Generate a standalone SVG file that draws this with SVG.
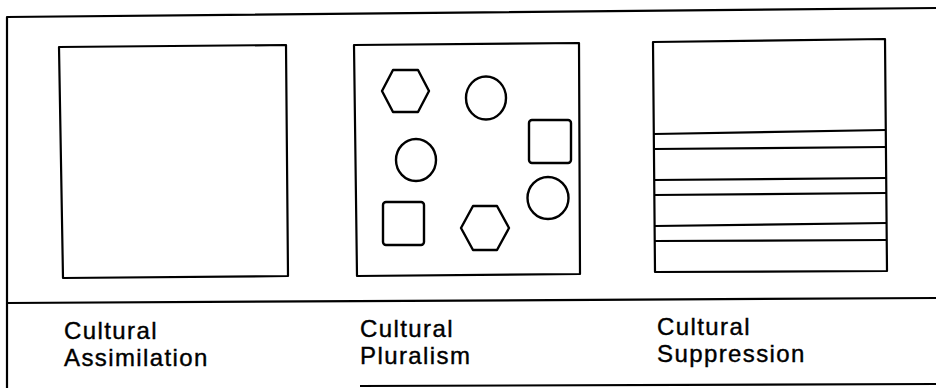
<svg xmlns="http://www.w3.org/2000/svg" width="936" height="388" viewBox="0 0 936 388">
<style>
.ln{fill:none;stroke:#000;stroke-width:2.2;stroke-linejoin:round}
.sh{fill:none;stroke:#000;stroke-width:2.4;stroke-linejoin:round}
.lbl{font-family:"Liberation Sans",Arial,sans-serif;font-size:24px;letter-spacing:1.4px;fill:#000;stroke:#000;stroke-width:0.4px}
</style>
<rect width="936" height="388" fill="#fff"/>
<g id="frame">
<polyline class="ln" points="936,8 7,17 7,388"/>
<line class="ln" x1="7" y1="303" x2="936" y2="298"/>
<line class="ln" x1="360" y1="386" x2="936" y2="384"/>
</g>
<g id="assimilation">
<polygon class="ln" points="59,47 286,45 288,276 63,278"/>
<text class="lbl" x="64" y="339">Cultural</text>
<text class="lbl" x="64" y="366">Assimilation</text>
</g>
<g id="pluralism">
<polygon class="ln" points="354,45 579,43 580,274 357,276"/>
<polygon class="sh" points="393,70 418,70 429,91 418,112 393,112 382,91"/>
<ellipse class="sh" cx="486" cy="98" rx="20" ry="21.5"/>
<rect class="sh" x="529" y="120" width="42" height="43" rx="3"/>
<ellipse class="sh" cx="416" cy="160" rx="20" ry="21"/>
<ellipse class="sh" cx="548" cy="198" rx="20.5" ry="21"/>
<rect class="sh" x="383" y="202" width="41" height="43" rx="3"/>
<polygon class="sh" points="473,206 497,206 509,228 497,250 473,250 461,228"/>
<text class="lbl" x="360" y="337">Cultural</text>
<text class="lbl" x="360" y="364">Pluralism</text>
</g>
<g id="suppression">
<polygon class="ln" points="653,42 885,39 887,271 655,272"/>
<line class="ln" x1="654" y1="134" x2="886" y2="130"/>
<line class="ln" x1="654" y1="149" x2="886" y2="147"/>
<line class="ln" x1="654" y1="180" x2="886" y2="178"/>
<line class="ln" x1="654" y1="195" x2="886" y2="193"/>
<line class="ln" x1="655" y1="226" x2="887" y2="223"/>
<line class="ln" x1="655" y1="241" x2="887" y2="240"/>
<text class="lbl" x="657" y="335">Cultural</text>
<text class="lbl" x="657" y="362">Suppression</text>
</g>
<g id="connectors"/>
</svg>
